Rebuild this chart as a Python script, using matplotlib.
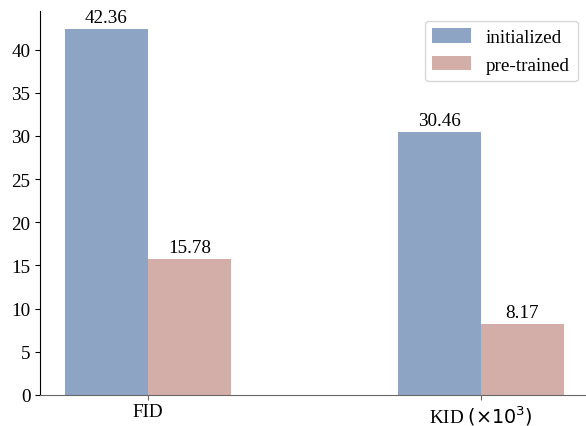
import matplotlib
matplotlib.use("Agg")
import matplotlib.pyplot as plt
import numpy as np

plt.rcParams['font.family'] = ['Liberation Serif', 'DejaVu Serif']
plt.rcParams['mathtext.fontset'] = 'dejavusans'

metrics = ["FID", r"KID $(\times10^3)$"]
initialized = [42.36, 30.46]
pretrained = [15.78, 8.17]
series_names = ["initialized", "pre-trained"]
colors = ["#8EA4C4", "#D3AEA8"]

FS = 13.8

fig = plt.figure(figsize=(5.86, 4.27), dpi=100)
W, H = 586, 427
ax = fig.add_axes([40 / W, 31 / H, 549 / W, 384 / H])

x = np.arange(len(metrics))
width = 0.25
b1 = ax.bar(x - width / 2, initialized, width, color=colors[0], label=series_names[0])
b2 = ax.bar(x + width / 2, pretrained, width, color=colors[1], label=series_names[1])

for bars, vals in ((b1, initialized), (b2, pretrained)):
    for rect, v in zip(bars, vals):
        ax.text(rect.get_x() + rect.get_width() / 2, v + 0.35, f"{v:.2f}",
                ha="center", va="bottom", fontsize=FS)

ax.set_xticks(x)
ax.set_xticklabels(metrics, fontsize=FS)
ax.tick_params(axis="x", pad=2.5, color="#666666")
ax.tick_params(axis="y", labelsize=FS)
ax.set_yticks(range(0, 45, 5))

ax.spines["top"].set_visible(False)
ax.spines["right"].set_visible(False)
ax.spines["bottom"].set_color("#666666")

ax.legend(loc="upper right", fontsize=FS, bbox_to_anchor=(0.997, 1.0),
          edgecolor="#cccccc", handlelength=2.0, handleheight=0.8)

fig.savefig("out.png", dpi=100)
